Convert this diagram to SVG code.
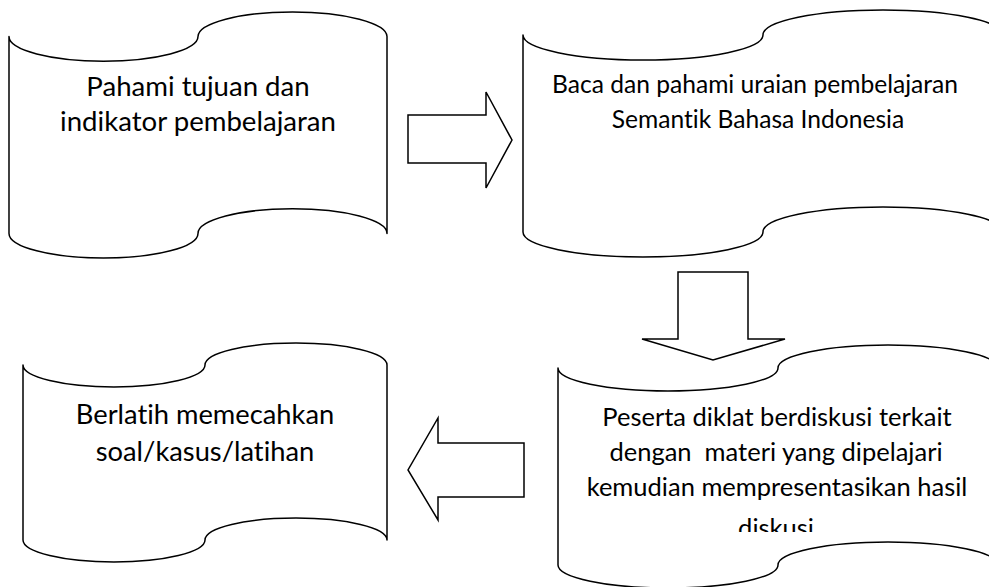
<svg xmlns="http://www.w3.org/2000/svg" width="989" height="587" viewBox="0 0 989 587">
<style>
.tape{fill:#fff;stroke:#000;stroke-width:1.5;stroke-linejoin:round}
.arrow{fill:#fff;stroke:#000;stroke-width:1.5;stroke-linejoin:miter}
.t{font-family:Lato,"Liberation Sans",sans-serif;fill:#000;text-anchor:middle;font-variant-ligatures:none}
</style>
<defs>
<clipPath id="clip4"><rect x="540" y="380" width="449" height="152"/></clipPath>
</defs>
<rect width="989" height="587" fill="#fff"/>
<g id="node1">
<path class="tape" d="M9,36.6 A94.5,24.6 0 0 0 198,36.6 A94.5,24.6 0 0 1 387,36.6 L387,233.4 A94.5,24.6 0 0 0 198,233.4 A94.5,24.6 0 0 1 9,233.4 Z"/>
<text class="t" font-size="27.6" x="198" y="96">Pahami tujuan dan</text>
<text class="t" font-size="27.6" x="198" y="131">indikator pembelajaran</text>
</g>
<g id="node2">
<path class="tape" d="M523,35 A120,25 0 0 0 763,35 A120,25 0 0 1 1003,35 L1003,232 A120,25 0 0 0 763,232 A120,25 0 0 1 523,232 Z"/>
<text class="t" font-size="24.6" x="755" y="93">Baca dan pahami uraian pembelajaran</text>
<text class="t" font-size="24.6" x="758" y="128">Semantik Bahasa Indonesia</text>
</g>
<g id="node3">
<path class="tape" d="M23,365 A91,21.9 0 0 0 205,365 A91,21.9 0 0 1 387,365 L387,540 A91,21.9 0 0 0 205,540 A91,21.9 0 0 1 23,540 Z"/>
<text class="t" font-size="27.3" x="205" y="424">Berlatih memecahkan</text>
<text class="t" font-size="27.3" x="205" y="461">soal/kasus/latihan</text>
</g>
<g id="node4">
<path class="tape" d="M558,368 A110,23 0 0 0 778,368 A110,23 0 0 1 998,368 L998,565 A110,23 0 0 0 778,565 A110,23 0 0 1 558,565 Z"/>
<g clip-path="url(#clip4)">
<text class="t" font-size="25.5" x="777" y="426">Peserta diklat berdiskusi terkait</text>
<text class="t" font-size="25.5" x="776" y="461" xml:space="preserve">dengan  materi yang dipelajari</text>
<text class="t" font-size="25.5" x="777" y="496">kemudian mempresentasikan hasil</text>
<text class="t" font-size="25.5" x="776" y="537">diskusi</text>
</g>
</g>
<g id="connectors">
<path class="arrow" d="M408,115 L486,115 L486,92 L512,140 L486,188 L486,163 L408,163 Z"/>
<path class="arrow" d="M678,272 L748,272 L748,339 L785,339 L713,360 L642,339 L678,339 Z"/>
<path class="arrow" d="M524,443 L438,443 L438,418 L408,470 L438,520 L438,497 L524,497 Z"/>
</g>
</svg>
